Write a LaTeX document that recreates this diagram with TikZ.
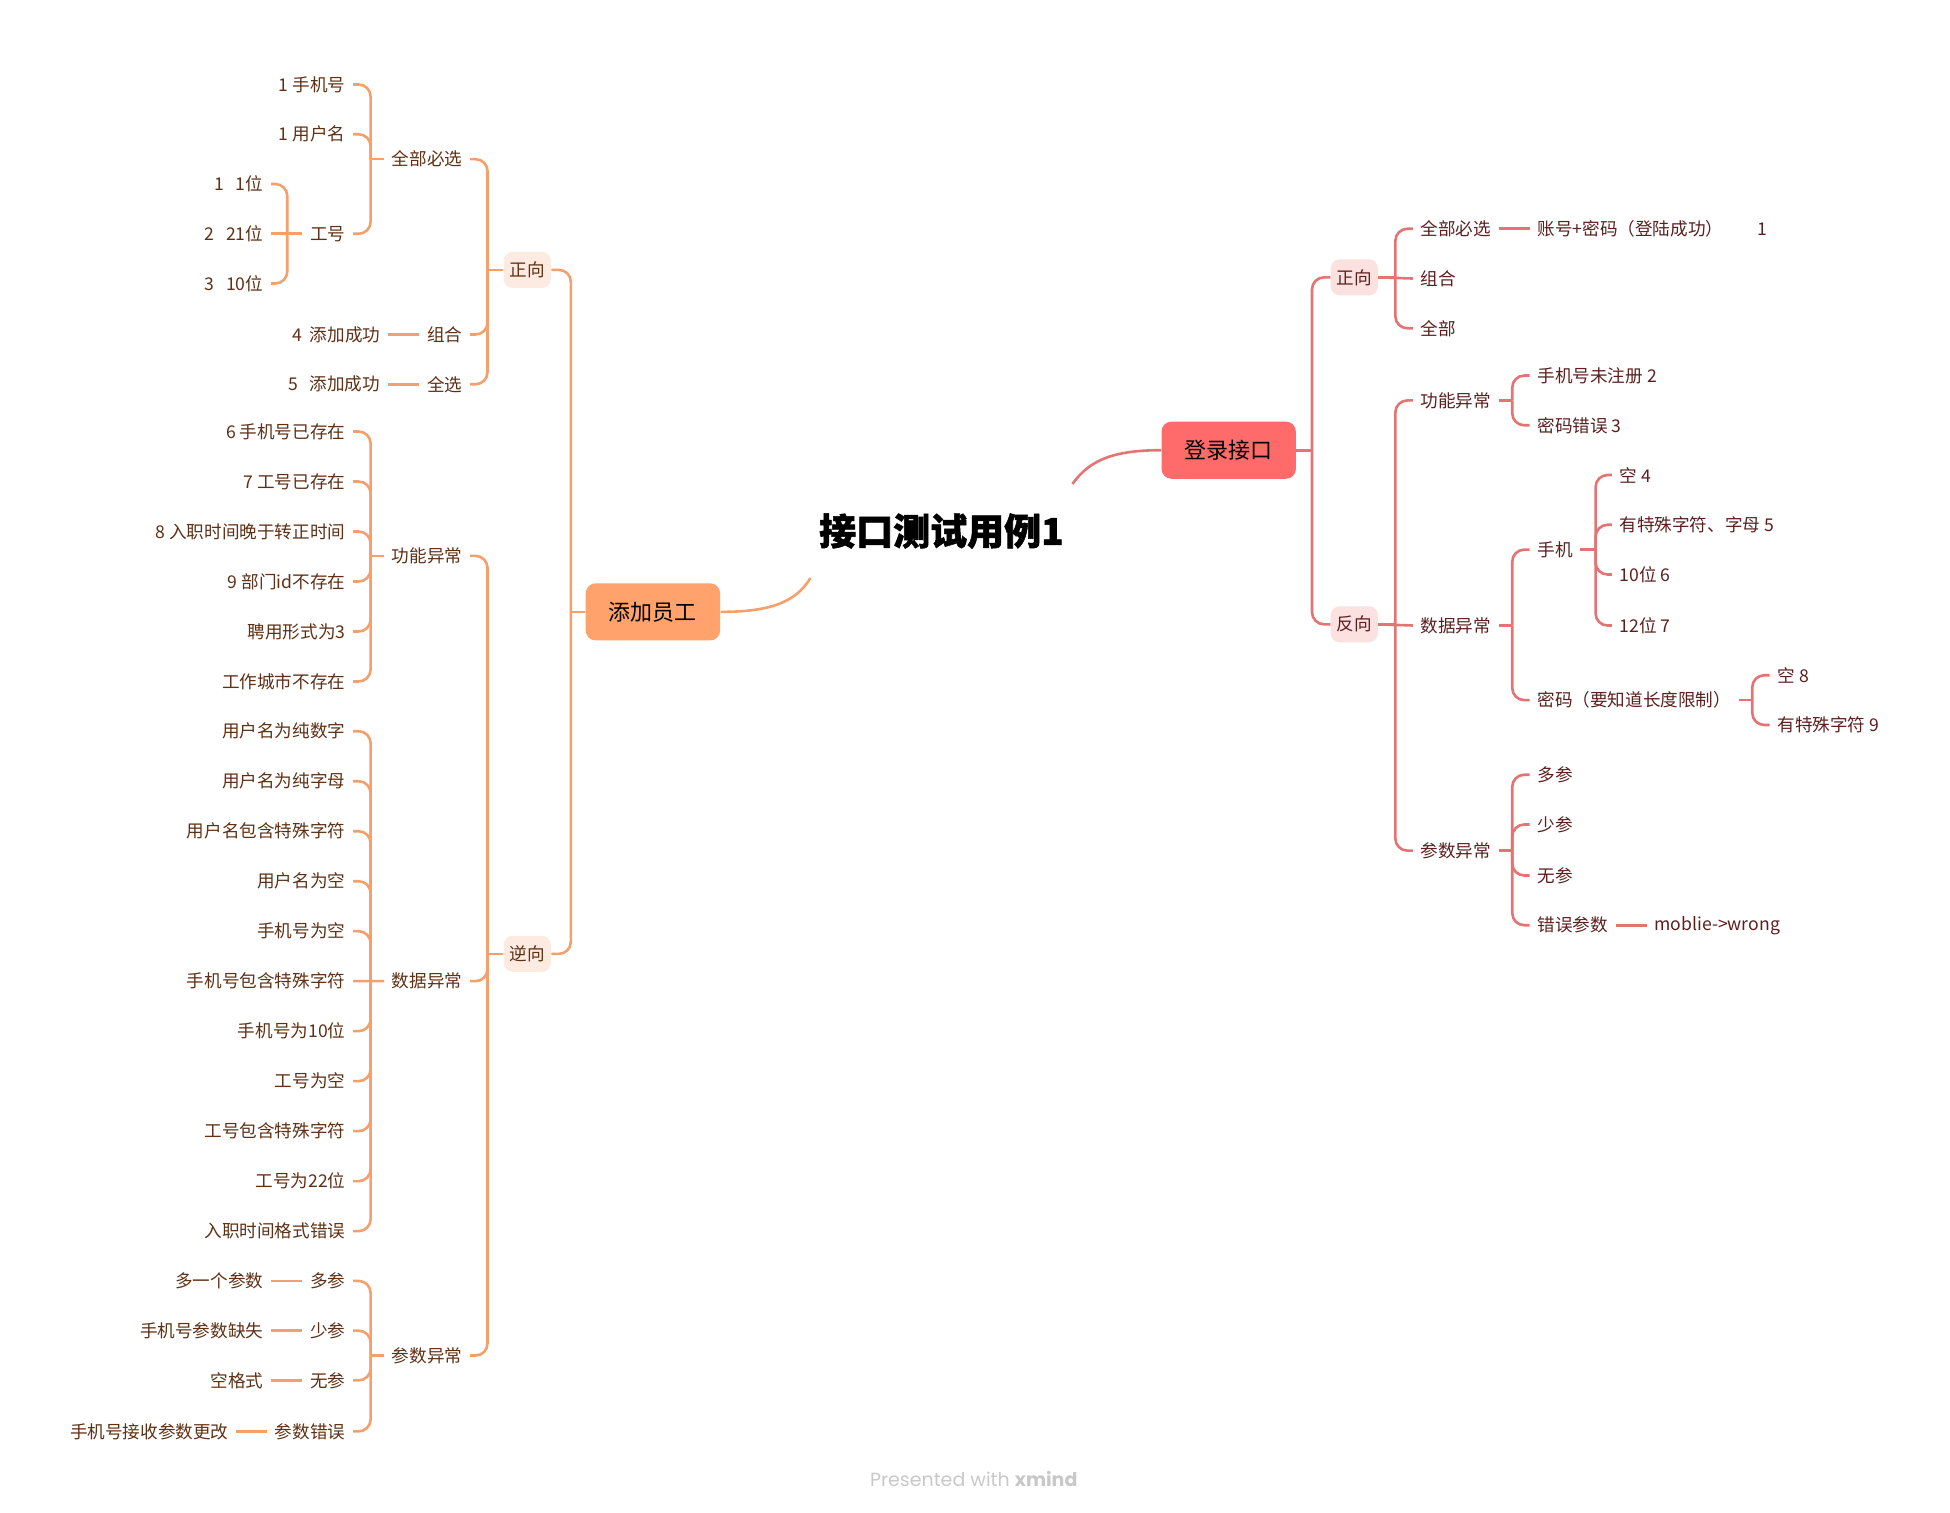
\documentclass[tikz,border=0pt]{standalone}
\usepackage{fontspec}
\setmainfont{Noto Sans CJK SC}
\newfontfamily\titlefont{Noto Sans CJK SC}[BoldFeatures={FakeBold=1.5}]
\newfontfamily\wmfont{Poppins}
\definecolor{lcol}{HTML}{F4A06C}
\definecolor{ltext}{HTML}{5E3015}
\definecolor{lboxA}{HTML}{FFA26B}
\definecolor{lboxB}{HTML}{FDEAE0}
\definecolor{rcol}{HTML}{E57373}
\definecolor{rtext}{HTML}{5C1F1F}
\definecolor{rboxA}{HTML}{FF6B6B}
\definecolor{rboxB}{HTML}{FCE1E1}
\definecolor{wmgray}{HTML}{C8C8C8}
\newcommand\leafsize{\fontsize{8.8pt}{10pt}\selectfont}
\tikzset{
  ltx/.style={text=ltext, font=\leafsize, inner xsep=3.7pt, inner ysep=2pt, anchor=east, yshift=-0.6pt},
  rtx/.style={text=rtext, font=\leafsize, inner xsep=3.7pt, inner ysep=2pt, anchor=west, yshift=-0.6pt},
  lc/.style={draw=lcol, line width=1.3pt, rounded corners=6pt},
  rc/.style={draw=rcol, line width=1.3pt, rounded corners=6pt},
  mainbox/.style={rounded corners=5pt, minimum width=67.2pt, minimum height=28.6pt, inner sep=0pt, font=\fontsize{11pt}{12pt}\selectfont, text=black},
  subbox/.style={rounded corners=4.5pt, minimum width=23.6pt, minimum height=18pt, inner sep=0pt, font=\leafsize},
}
\newcommand\lcon[3]{\draw[lc] (#1.west) -- (#1.west -| #3); \draw[lc] (#1.west -| #3) |- (#2.east);}
\newcommand\rcon[3]{\draw[rc] (#1.east) -- (#1.east -| #3); \draw[rc] (#1.east -| #3) |- (#2.west);}
\newcommand\lstr[2]{\draw[lc] (#1.west) -- (#2.east);}
\newcommand\rstr[2]{\draw[rc] (#1.east) -- (#2.west);}
\begin{document}
\begin{tikzpicture}[x=0.6218pt, y=-0.6218pt]
\useasboundingbox (0,0) rectangle (1568,1216);
% spines
\coordinate (sLA) at (459,0);
\coordinate (sLB) at (392,0);
\coordinate (sLC) at (298,0);
\coordinate (sLD) at (231,0);
\coordinate (sRA) at (1055,0);
\coordinate (sRB) at (1122,0);
\coordinate (sRC) at (1216,0);
\coordinate (sRD) at (1283,0);
\coordinate (sRE) at (1409,0);

% title
\node[minimum width=130.6pt, minimum height=46.6pt, inner sep=0pt, font=\titlefont\fontsize{18.5pt}{20pt}\selectfont\bfseries, text=black] (title) at (757,427) {接口测试用例1};

% ---------- left branch ----------
\node[mainbox, fill=lboxA] (la) at (525,492) {添加员工};
\node[subbox, fill=lboxB, text=ltext] (lz) at (424,217) {正向};
\node[subbox, fill=lboxB, text=ltext] (ln) at (424,767) {逆向};
\draw[lcol, line width=1.3pt] (title.south west) .. controls (640,484) and (620,492) .. (la.east);
\lcon{la}{lz}{sLA}
\lcon{la}{ln}{sLA}

\node[ltx] (qb) at (378,127) {全部必选};
\node[ltx] (zh) at (378,268) {组合};
\node[ltx] (qx) at (378,308) {全选};
\lcon{lz}{qb}{sLB}
\lcon{lz}{zh}{sLB}
\lcon{lz}{qx}{sLB}

\node[ltx] (a1) at (284,67) {1 手机号};
\node[ltx] (a2) at (284,107) {1 用户名};
\node[ltx] (gh) at (284,187) {工号};
\lcon{qb}{a1}{sLC}
\lcon{qb}{a2}{sLC}
\lcon{qb}{gh}{sLC}

\node[ltx] (b1) at (218,147) {1\hspace{6pt}1位};
\node[ltx] (b2) at (218,187) {2\hspace{6pt}21位};
\node[ltx] (b3) at (218,227) {3\hspace{6pt}10位};
\lcon{gh}{b1}{sLD}
\lstr{gh}{b2}
\lcon{gh}{b3}{sLD}

\node[ltx] (c1) at (312,268) {4\hspace{4pt}添加成功};
\node[ltx] (c2) at (312,308) {5\hspace{6pt}添加成功};
\lstr{zh}{c1}
\lstr{qx}{c2}

\node[ltx] (gn) at (378,446) {功能异常};
\node[ltx] (sj) at (378,788) {数据异常};
\node[ltx] (cs) at (378,1089) {参数异常};
\lcon{ln}{gn}{sLB}
\lcon{ln}{sj}{sLB}
\lcon{ln}{cs}{sLB}

\foreach \t [count=\i] in {6 手机号已存在, 7 工号已存在, 8 入职时间晚于转正时间, 9 部门id不存在, 聘用形式为3, 工作城市不存在}{
  \node[ltx] (gn\i) at (284,{346+40.2*(\i-1)}) {\t};
  \lcon{gn}{gn\i}{sLC}
}
\foreach \t [count=\i] in {用户名为纯数字, 用户名为纯字母, 用户名包含特殊字符, 用户名为空, 手机号为空, 手机号包含特殊字符, 手机号为10位, 工号为空, 工号包含特殊字符, 工号为22位, 入职时间格式错误}{
  \node[ltx] (sj\i) at (284,{587+40.2*(\i-1)}) {\t};
}
\foreach \i in {1,2,3,4,5,7,8,9,10,11}{\lcon{sj}{sj\i}{sLC}}
\lstr{sj}{sj6}

\node[ltx] (d1) at (284,1029) {多参};
\node[ltx] (d2) at (284,1069) {少参};
\node[ltx] (d3) at (284,1109) {无参};
\node[ltx] (d4) at (284,1150) {参数错误};
\foreach \i in {1,2,3,4}{\lcon{cs}{d\i}{sLC}}
\node[ltx] (e1) at (218,1029) {多一个参数};
\node[ltx] (e2) at (218,1069) {手机号参数缺失};
\node[ltx] (e3) at (218,1109) {空格式};
\node[ltx] (e4) at (190,1150) {手机号接收参数更改};
\foreach \i in {1,2,3,4}{\lstr{d\i}{e\i}}

% ---------- right branch ----------
\node[mainbox, fill=rboxA] (ra) at (988,362) {登录接口};
\node[subbox, fill=rboxB, text=rtext] (rz) at (1089,223) {正向};
\node[subbox, fill=rboxB, text=rtext] (rf) at (1089,502) {反向};
\draw[rcol, line width=1.3pt] (title.north east) .. controls (876,370) and (895,362) .. (ra.west);
\rcon{ra}{rz}{sRA}
\rcon{ra}{rf}{sRA}

\node[rtx] (f1) at (1136,183) {全部必选};
\node[rtx] (f2) at (1136,223) {组合};
\node[rtx] (f3) at (1136,263) {全部};
\rcon{rz}{f1}{sRB}
\rstr{rz}{f2}
\rcon{rz}{f3}{sRB}
\node[rtx] (h1) at (1230,183) {账号+密码（登陆成功）\hspace{17pt}1};
\rstr{f1}{h1}

\node[rtx] (g1) at (1136,321) {功能异常};
\node[rtx] (g2) at (1136,502) {数据异常};
\node[rtx] (g3) at (1136,683) {参数异常};
\rcon{rf}{g1}{sRB}
\rstr{rf}{g2}
\rcon{rf}{g3}{sRB}

\node[rtx] (i1) at (1230,301) {手机号未注册 2};
\node[rtx] (i2) at (1230,341) {密码错误 3};
\rcon{g1}{i1}{sRC}
\rcon{g1}{i2}{sRC}

\node[rtx] (j1) at (1230,441) {手机};
\node[rtx] (j2) at (1230,562) {密码（要知道长度限制）};
\rcon{g2}{j1}{sRC}
\rcon{g2}{j2}{sRC}

\node[rtx] (k1) at (1296,381) {空 4};
\node[rtx] (k2) at (1296,421) {有特殊字符、字母 5};
\node[rtx] (k3) at (1296,461) {10位 6};
\node[rtx] (k4) at (1296,502) {12位 7};
\foreach \i in {1,2,3,4}{\rcon{j1}{k\i}{sRD}}

\node[rtx] (m1) at (1423,542) {空 8};
\node[rtx] (m2) at (1423,582) {有特殊字符 9};
\rcon{j2}{m1}{sRE}
\rcon{j2}{m2}{sRE}

\node[rtx] (n1) at (1230,622) {多参};
\node[rtx] (n2) at (1230,662) {少参};
\node[rtx] (n3) at (1230,703) {无参};
\node[rtx] (n4) at (1230,743) {错误参数};
\foreach \i in {1,2,3,4}{\rcon{g3}{n\i}{sRC}}
\node[rtx] (n5) at (1324,743) {moblie->wrong};
\rstr{n4}{n5}

% watermark
\node[text=wmgray, font=\wmfont\fontsize{9.5pt}{11pt}\selectfont] (wm) at (783,1189) {Presented with \textbf{xmind}};
\end{tikzpicture}
\end{document}
